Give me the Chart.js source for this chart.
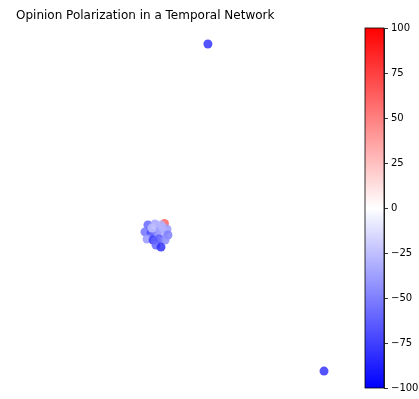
<!DOCTYPE html>
<html>
<head>
<meta charset="utf-8">
<script src="https://cdn.jsdelivr.net/npm/chart.js@4.4.0/dist/chart.umd.min.js"></script>
<style>
  body { margin: 0; background: #fff; }
  #chart { display: block; }
</style>
</head>
<body>
<canvas id="chart" width="419" height="399"></canvas>
<script>
// node layout positions (spring layout units) and opinions
var nodeX = [0.043, 0.674,
    -0.193, -0.283, -0.245, -0.212, -0.179, -0.299, -0.266, -0.234, -0.201,
    -0.174, -0.288, -0.255, -0.223, -0.190, -0.239, -0.212, -0.261, -0.205];
var nodeY = [0.911, -0.906,
    -0.086, -0.094, -0.089, -0.094, -0.117, -0.133, -0.139, -0.133, -0.139,
    -0.150, -0.172, -0.178, -0.172, -0.178, -0.206, -0.217, -0.111, -0.108];
var opinion = [-67, -67,
    60, -60, -35, -30, -40, -55, -70, -45, -35,
    -50, -40, -75, -65, -45, -60, -80, -25, -30];
var cbTicks = [-100, -75, -50, -25, 0, 25, 50, 75, 100];

// matplotlib 'bwr' colormap
function bwr(v, a) {
    var t = (v + 100) / 200;
    var r, g, b;
    if (t < 0.5) {
        r = g = Math.round(255 * t * 2);
        b = 255;
    } else {
        r = 255;
        g = b = Math.round(255 * (1 - t) * 2);
    }
    return 'rgba(' + r + ',' + g + ',' + b + ',' + (a === undefined ? 1 : a) + ')';
}

var points = [];
for (var i = 0; i < nodeX.length; i++) {
    points.push({ x: nodeX[i], y: nodeY[i] });
}

var colorbarPlugin = {
    id: 'colorbar',
    beforeDraw: function (chart) {
        var cb = chart.scales.cb;
        var ctx = chart.ctx;
        var w = 19;
        var grad = ctx.createLinearGradient(0, cb.bottom, 0, cb.top);
        grad.addColorStop(0, bwr(-100));
        grad.addColorStop(0.5, bwr(0));
        grad.addColorStop(1, bwr(100));
        ctx.save();
        ctx.fillStyle = grad;
        ctx.fillRect(cb.left - w, cb.top, w, cb.bottom - cb.top);
        ctx.strokeStyle = '#000';
        ctx.lineWidth = 0.8;
        ctx.strokeRect(cb.left - w, cb.top, w, cb.bottom - cb.top);
        ctx.restore();
    }
};

Chart.defaults.font.family = "'DejaVu Sans', sans-serif";
Chart.defaults.color = '#000';

var config = {
    type: 'scatter',
    data: {
        datasets: [{
            label: 'Opinion',
            data: points,
            backgroundColor: function (c) {
                return bwr(opinion[c.dataIndex], c.dataIndex < 2 ? 1 : 0.85);
            },
            borderWidth: 0,
            pointRadius: 4.5,
            pointHoverRadius: 4.5
        }]
    },
    options: {
        responsive: false,
        animation: false,
        layout: { padding: { left: 16, right: 0, top: 0, bottom: 11 } },
        plugins: {
            legend: { display: false },
            tooltip: { enabled: false },
            title: {
                display: true,
                text: 'Opinion Polarization in a Temporal Network',
                align: 'start',
                color: '#000',
                font: { size: 12, weight: 'normal' },
                padding: { top: 9, bottom: 4.6 }
            }
        },
        scales: {
            x: { type: 'linear', display: false, min: -1, max: 1 },
            y: { type: 'linear', display: false, min: -1, max: 1 },
            cb: {
                type: 'linear',
                axis: 'y',
                position: 'right',
                min: -100,
                max: 100,
                afterFit: function (scale) { scale.width = 35; },
                afterBuildTicks: function (scale) {
                    scale.ticks = cbTicks.map(function (v) { return { value: v }; });
                },
                grid: { drawOnChartArea: false, tickLength: 4, color: '#000', tickWidth: 0.8 },
                border: { display: true, color: '#000', width: 0.8 },
                ticks: {
                    padding: 3,
                    color: '#000',
                    font: { size: 10 },
                    callback: function (v) { return String(v).replace('-', '\u2212'); }
                }
            }
        }
    },
    plugins: [colorbarPlugin]
};

new Chart(document.getElementById('chart').getContext('2d'), config);
</script>
</body>
</html>
